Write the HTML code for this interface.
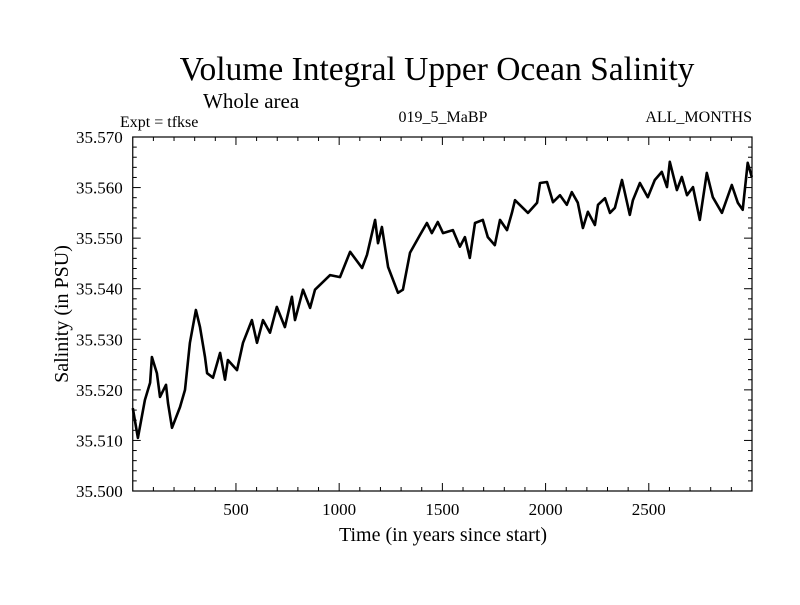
<!DOCTYPE html>
<html><head><meta charset="utf-8"><style>
body{margin:0;background:#fff}
svg text{font-family:"Liberation Serif",serif;fill:#000}
</style></head><body>
<svg width="800" height="600" xmlns="http://www.w3.org/2000/svg">
<text x="437" y="80" font-size="33.5" text-anchor="middle">Volume Integral Upper Ocean Salinity</text>
<text x="203" y="108" font-size="21">Whole area</text>
<text x="120" y="127" font-size="16">Expt = tfkse</text>
<text x="443" y="122" font-size="16" text-anchor="middle">019_5_MaBP</text>
<text x="752" y="122" font-size="16" text-anchor="end">ALL_MONTHS</text>
<g id="axes"></g>
<g id="series"></g>
<text x="443" y="541" font-size="20" text-anchor="middle">Time (in years since start)</text>
<text transform="translate(68,314) rotate(-90)" font-size="20" text-anchor="middle">Salinity (in PSU)</text>
</svg>
<script>
const years=[0,25,59,84,93,117,132,161,171,190,229,253,277,306,326,350,360,389,423,447,461,505,534,577,602,631,665,698,737,771,786,825,859,883,956,1004,1053,1111,1135,1174,1188,1207,1237,1285,1309,1343,1391,1425,1449,1478,1503,1551,1585,1609,1633,1658,1696,1720,1754,1779,1813,1837,1852,1915,1959,1973,2007,2036,2070,2103,2127,2156,2181,2205,2239,2254,2288,2312,2336,2370,2408,2423,2457,2495,2529,2563,2588,2602,2636,2660,2685,2714,2747,2781,2810,2854,2902,2931,2955,2979,2999];
const salinity=[35.5164,35.5105,35.5180,35.5214,35.5265,35.5233,35.5186,35.5210,35.5174,35.5125,35.5166,35.5200,35.5293,35.5358,35.5324,35.5265,35.5233,35.5224,35.5273,35.5220,35.5259,35.5239,35.5293,35.5338,35.5293,35.5338,35.5313,35.5364,35.5324,35.5384,35.5338,35.5398,35.5362,35.5398,35.5427,35.5423,35.5473,35.5441,35.5467,35.5536,35.5490,35.5522,35.5443,35.5392,35.5398,35.5471,35.5506,35.5530,35.5510,35.5532,35.5510,35.5516,35.5483,35.5502,35.5461,35.5530,35.5536,35.5502,35.5486,35.5536,35.5516,35.5550,35.5575,35.5550,35.5570,35.5609,35.5611,35.5571,35.5585,35.5566,35.5591,35.5570,35.5520,35.5552,35.5526,35.5566,35.5579,35.5550,35.5560,35.5615,35.5546,35.5575,35.5609,35.5581,35.5615,35.5631,35.5601,35.5651,35.5595,35.5621,35.5585,35.5601,35.5536,35.5629,35.5581,35.5550,35.5605,35.5570,35.5556,35.5649,35.5621];
const xTicks=[500,1000,1500,2000,2500];
const yTicks=[35.500,35.510,35.520,35.530,35.540,35.550,35.560,35.570];
const L=132.75,R=752,T=137,B=491,X0=0,X1=3000,Y0=35.500,Y1=35.570;
const NS="http://www.w3.org/2000/svg";
const xs=t=>L+(t-X0)/(X1-X0)*(R-L);
const ys=v=>B-(v-Y0)/(Y1-Y0)*(B-T);
function mk(tag,attrs,parent){const e=document.createElementNS(NS,tag);for(const k in attrs)e.setAttribute(k,attrs[k]);parent.appendChild(e);return e;}
const ax=document.getElementById('axes');
const frame=mk('rect',{x:L,y:T,width:R-L,height:B-T,fill:'none',stroke:'#000','stroke-width':1.2},ax);


for(let t=100;t<X1;t+=100){const major=t%500===0;const len=major?8:4;
 mk('line',{x1:xs(t),x2:xs(t),y1:B,y2:B-len,stroke:'#000'},ax);
 mk('line',{x1:xs(t),x2:xs(t),y1:T,y2:T+len,stroke:'#000'},ax);}
for(let i=1;i<35;i++){const v=Y0+i*0.002;const major=i%5===0;const len=major?8:4;
 mk('line',{x1:L,x2:L+len,y1:ys(v),y2:ys(v),stroke:'#000'},ax);
 mk('line',{x1:R,x2:R-len,y1:ys(v),y2:ys(v),stroke:'#000'},ax);}
xTicks.forEach(t=>{const e=mk('text',{x:xs(t),y:B+24,'font-size':17,'text-anchor':'middle'},ax);e.textContent=t;
 
 });
yTicks.forEach(v=>{const e=mk('text',{x:L-10,y:ys(v)+6,'font-size':17,'text-anchor':'end'},ax);e.textContent=v.toFixed(3);
 
 });
const d=years.map((t,i)=>(i?'L':'M')+xs(t).toFixed(1)+','+ys(salinity[i]).toFixed(1)).join('');
const p=mk('path',{d:d,fill:'none',stroke:'#000','stroke-width':2.6,'stroke-linejoin':'round'},document.getElementById('series'));


</script>
</body></html>
